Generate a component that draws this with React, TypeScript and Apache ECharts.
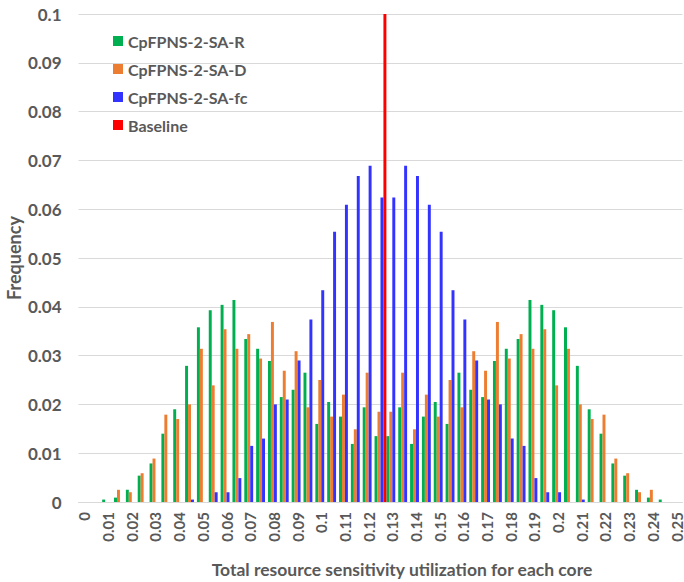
import React, { useEffect, useRef } from "react";
import * as echarts from "echarts";

// Histogram bins (0.005 wide); only every other bin gets a tick label.
const categories = [
  "0", "0.005", "0.01", "0.015", "0.02", "0.025", "0.03", "0.035", "0.04", "0.045",
  "0.05", "0.055", "0.06", "0.065", "0.07", "0.075", "0.08", "0.085", "0.09", "0.095",
  "0.1", "0.105", "0.11", "0.115", "0.12", "0.125", "0.13", "0.135", "0.14", "0.145",
  "0.15", "0.155", "0.16", "0.165", "0.17", "0.175", "0.18", "0.185", "0.19", "0.195",
  "0.2", "0.205", "0.21", "0.215", "0.22", "0.225", "0.23", "0.235", "0.24", "0.245",
  "0.25",
];

const saR = [
  0, 0, 0.0005, 0.0009, 0.0025, 0.0054, 0.0079, 0.014, 0.019, 0.0279,
  0.0358, 0.0393, 0.0404, 0.0414, 0.0334, 0.0314, 0.0289, 0.0215, 0.023, 0.0265,
  0.016, 0.0205, 0.0175, 0.0119, 0.0194, 0.0135, 0.0135, 0.0194, 0.0119, 0.0175,
  0.0205, 0.016, 0.0265, 0.023, 0.0215, 0.0289, 0.0314, 0.0334, 0.0414, 0.0404,
  0.0393, 0.0358, 0.0279, 0.019, 0.014, 0.0079, 0.0054, 0.0025, 0.0009, 0.0005,
  0,
];

const saD = [
  0, 0, 0, 0.0025, 0.002, 0.0059, 0.0089, 0.0179, 0.017, 0.02,
  0.0314, 0.0239, 0.0354, 0.0314, 0.0344, 0.0294, 0.0369, 0.0269, 0.0309, 0.0194,
  0.025, 0.0175, 0.022, 0.0149, 0.0265, 0.0185, 0.0185, 0.0265, 0.0149, 0.022,
  0.0175, 0.025, 0.0194, 0.0309, 0.0269, 0.0369, 0.0294, 0.0344, 0.0314, 0.0354,
  0.0239, 0.0314, 0.02, 0.017, 0.0179, 0.0089, 0.0059, 0.002, 0.0025, 0,
  0,
];

const saFc = [
  0, 0, 0, 0, 0, 0, 0, 0, 0, 0.0005,
  0, 0.002, 0.002, 0.0049, 0.0115, 0.013, 0.02, 0.021, 0.029, 0.0374,
  0.0434, 0.0554, 0.0609, 0.0668, 0.0689, 0.0624, 0.0624, 0.0689, 0.0668, 0.0609,
  0.0554, 0.0434, 0.0374, 0.029, 0.021, 0.02, 0.013, 0.0115, 0.0049, 0.002,
  0.002, 0, 0.0005, 0, 0, 0, 0, 0, 0, 0,
  0,
];

// Baseline sits in the 0.125 bin and reaches the top of the axis.
const baseline = [
  null, null, null, null, null, null, null, null, null, null,
  null, null, null, null, null, null, null, null, null, null,
  null, null, null, null, null, 0.1, null, null, null, null,
  null, null, null, null, null, null, null, null, null, null,
  null, null, null, null, null, null, null, null, null, null,
  null,
];

const seriesNames = ["CpFPNS-2-SA-R", "CpFPNS-2-SA-D", "CpFPNS-2-SA-fc", "Baseline"];
const seriesColors = ["#00B050", "#ED7D31", "#3333FF", "#FF0000"];

const FONT = "Lato, 'Open Sans', sans-serif";
const TEXT = "#595959";

export default function App() {
  const ref = useRef<HTMLDivElement>(null);

  useEffect(() => {
    if (!ref.current) return;
    const chart = echarts.init(ref.current, null, { renderer: "svg" });
    const data = [saR, saD, saFc, baseline];

    chart.setOption({
      animation: false,
      backgroundColor: "#ffffff",
      grid: { left: 78.5, right: 0, top: 14, bottom: 80, containLabel: false },
      legend: {
        orient: "vertical",
        left: 108,
        top: 27,
        itemWidth: 10,
        itemHeight: 10,
        itemGap: 10,
        icon: "rect",
        data: seriesNames,
        textStyle: {
          fontFamily: FONT,
          fontSize: 16,
          fontWeight: "bold",
          color: TEXT,
          lineHeight: 18,
        },
      },
      xAxis: {
        type: "category",
        data: categories,
        boundaryGap: true,
        axisTick: { show: false },
        axisLine: { lineStyle: { color: "#D9D9D9", width: 1 } },
        axisLabel: {
          interval: 1,
          rotate: 90,
          margin: 10,
          fontFamily: FONT,
          fontSize: 15,
          fontWeight: "bold",
          color: TEXT,
        },
      },
      yAxis: {
        type: "value",
        min: 0,
        max: 0.1,
        interval: 0.01,
        axisLine: { show: false },
        axisTick: { show: false },
        splitLine: { lineStyle: { color: "#D9D9D9", width: 1 } },
        axisLabel: {
          margin: 17,
          fontFamily: FONT,
          fontSize: 17,
          fontWeight: "bold",
          color: TEXT,
          formatter: (v: number) => String(parseFloat(v.toFixed(2))),
        },
      },
      series: data.map((d, i) => ({
        name: seriesNames[i],
        type: "bar",
        data: d,
        barGap: "0%",
        barCategoryGap: "0%",
        itemStyle: { color: seriesColors[i] },
      })),
      graphic: [
        {
          type: "text",
          x: 14,
          y: 258,
          rotation: Math.PI / 2,
          style: {
            text: "Frequency",
            fontFamily: FONT,
            fontSize: 18,
            fontWeight: "bold",
            fill: TEXT,
            align: "center",
            verticalAlign: "middle",
          },
        },
        {
          type: "text",
          x: 402,
          y: 569,
          style: {
            text: "Total resource sensitivity utilization for each core",
            fontFamily: FONT,
            fontSize: 17.5,
            fontWeight: "bold",
            fill: TEXT,
            align: "center",
            verticalAlign: "middle",
          },
        },
      ],
    });

    return () => chart.dispose();
  }, []);

  return (
    <div
      ref={ref}
      style={{ position: "fixed", left: 0, top: 0, width: 684, height: 582 }}
    />
  );
}
